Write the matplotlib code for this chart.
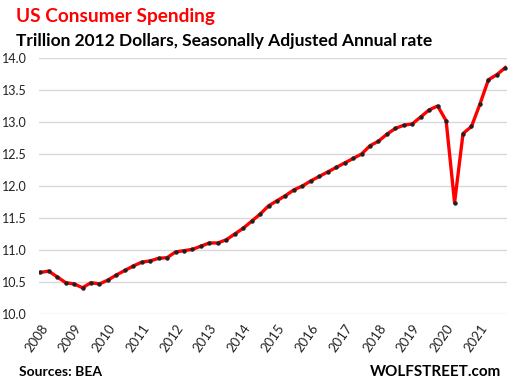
import matplotlib
matplotlib.use("Agg")
import matplotlib.pyplot as plt

years = list(range(2008, 2022))
values = [
    10.65, 10.67, 10.58, 10.49,
    10.47, 10.41, 10.49, 10.47,
    10.53, 10.61, 10.68, 10.75,
    10.81, 10.83, 10.87, 10.88,
    10.97, 10.99, 11.01, 11.06,
    11.11, 11.11, 11.16, 11.25,
    11.34, 11.45, 11.56, 11.69,
    11.77, 11.85, 11.94, 12.00,
    12.08, 12.15, 12.22, 12.29,
    12.36, 12.43, 12.50, 12.63,
    12.70, 12.81, 12.90, 12.95,
    12.97, 13.08, 13.19, 13.25,
    13.02, 11.74, 12.82, 12.93,
    13.28, 13.66, 13.74, 13.85,
]
yticks = [10.0, 10.5, 11.0, 11.5, 12.0, 12.5, 13.0, 13.5, 14.0]

plt.rcParams['font.family'] = ['Lato', 'DejaVu Sans']

W, H = 511, 384
fig = plt.figure(figsize=(W / 100, H / 100), dpi=100)
ax = fig.add_axes([39 / W, 1 - 314 / H, (507 - 39) / W, (314 - 58) / H])

x = list(range(len(values)))
ax.plot(x, values, color='#ff0000', lw=2.4, solid_joinstyle='round', zorder=3)
ax.plot(x, values, ls='none', marker='o', ms=2.2, color='#222222', zorder=4)

ax.set_ylim(10, 14)
ax.set_xlim(-0.15, 55.2)
ax.set_yticks(yticks)
ax.set_yticklabels([f"{v:.1f}" for v in yticks], fontsize=9, color='#222222')
ax.set_xticks([4 * i for i in range(len(years))])
ax.set_xticklabels([str(y) for y in years], rotation=55, ha='right', va='top',
                   rotation_mode='anchor', fontsize=9.5, color='#222222')
ax.tick_params(axis='both', length=0)
ax.tick_params(axis='y', pad=9)
ax.tick_params(axis='x', pad=6)
ax.grid(axis='y', color='#d9d9d9', lw=1)
ax.set_axisbelow(True)
for s in ax.spines.values():
    s.set_visible(False)

fig.text(16 / W, 1 - 22 / H, "US Consumer Spending", color='#ff0000',
         fontsize=13.7, fontweight='bold', ha='left', va='baseline')
fig.text(16 / W, 1 - 46 / H, "Trillion 2012 Dollars, Seasonally Adjusted Annual rate",
         color='black', fontsize=12.5, fontweight='bold', ha='left', va='baseline')
fig.text(19 / W, 1 - 376 / H, "Sources: BEA", color='black',
         fontsize=10, fontweight='bold', ha='left', va='baseline')
fig.text(501 / W, 1 - 376 / H, "WOLFSTREET.com", color='black',
         fontsize=11, fontweight='bold', ha='right', va='baseline')

fig.savefig("out.png", dpi=100)
